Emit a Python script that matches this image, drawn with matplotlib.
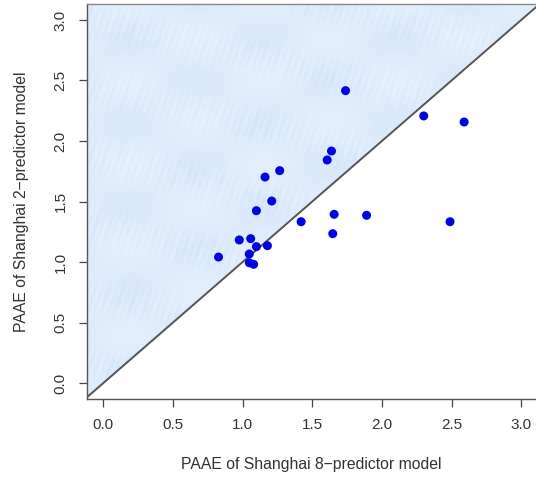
import numpy as np
import matplotlib
matplotlib.use('Agg')
import matplotlib.pyplot as plt
from matplotlib.patches import Polygon

plt.rcParams['font.family'] = ['Liberation Sans', 'DejaVu Sans']

# PAAE values
paae_8 = [1.739, 2.300, 2.590, 1.638, 1.607, 1.266, 1.161, 1.209, 1.099, 1.420, 1.657,
          1.890, 2.489, 1.647, 0.976, 1.058, 1.178, 1.099, 1.048, 1.048, 1.079, 0.827]
paae_2 = [2.416, 2.207, 2.157, 1.917, 1.843, 1.755, 1.702, 1.504, 1.424, 1.333, 1.394,
          1.386, 1.333, 1.234, 1.182, 1.193, 1.135, 1.127, 1.066, 0.994, 0.981, 1.041]
x_ticks = [0.0, 0.5, 1.0, 1.5, 2.0, 2.5, 3.0]
y_ticks = [0.0, 0.5, 1.0, 1.5, 2.0, 2.5, 3.0]

xlo, xhi = -0.117, 3.106
ylo, yhi = -0.132, 3.132

fig = plt.figure(figsize=(5.36, 4.79), dpi=100)
ax = fig.add_axes([87 / 536, 80 / 479, 449 / 536, 395 / 479])
ax.set_xlim(xlo, xhi)
ax.set_ylim(ylo, yhi)

# streaky light-blue texture above the diagonal
gx, gy = np.meshgrid(np.linspace(xlo, xhi, 600), np.linspace(ylo, yhi, 600))
u = gx * 0.96 - gy * 0.28
streak = 0.5 * np.sin(u * 131) + 0.3 * np.sin(u * 277 + 1.3) + 0.2 * np.sin(u * 59 + 0.7)
blob = np.sin(gx * 6.5 + 0.4) * np.sin(gy * 9.0 + 1.1)
t = 0.6 * streak * (0.5 + 0.5 * np.sin(gy * 11 + gx * 3)) + 0.4 * blob
light = np.array([0.93, 0.96, 0.995])
dark = np.array([0.80, 0.88, 0.975])
w = np.clip(0.45 + 0.4 * t, 0, 1)[..., None]
img = light * (1 - w) + dark * w
im = ax.imshow(img, extent=(xlo, xhi, ylo, yhi), origin='lower', aspect='auto',
               interpolation='bilinear', zorder=0)
tri = Polygon([(xlo, ylo), (xlo, yhi + 1), (yhi + 1, yhi + 1)], closed=True,
              transform=ax.transData, facecolor='none', edgecolor='none')
ax.add_patch(tri)
im.set_clip_path(tri)

ax.plot([-1, 4], [-1, 4], color='#555555', lw=1.4, zorder=2)
ax.scatter(paae_8, paae_2, s=42, color='#0000e6', edgecolors='none', zorder=3)

ax.set_xticks(x_ticks)
ax.set_yticks(y_ticks)
ax.set_xticklabels(['%.1f' % v for v in x_ticks])
ax.set_yticklabels(['%.1f' % v for v in y_ticks], rotation=90, va='center')
ax.tick_params(direction='out', length=6, width=0.9, color='#444444',
               labelsize=11, labelcolor='#333333', pad=8)
for s in ax.spines.values():
    s.set_color('#555555')
    s.set_linewidth(1.0)
ax.spines['top'].set_color('#888888')
ax.spines['right'].set_visible(False)

ax.set_xlabel('PAAE of Shanghai 8\u2212predictor model', fontsize=11.3, color='#333333', labelpad=18)
ax.set_ylabel('PAAE of Shanghai 2\u2212predictor model', fontsize=11.3, color='#333333', labelpad=18)

fig.savefig('out.png', dpi=100)
